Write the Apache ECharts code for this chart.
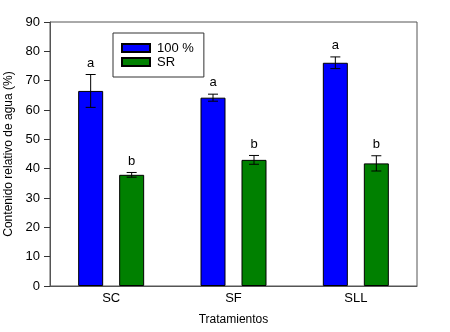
<!DOCTYPE html>
<html>
<head>
<meta charset="utf-8">
<script src="https://cdn.jsdelivr.net/npm/echarts@6/dist/echarts.min.js"></script>
<style>
html, body { margin: 0; padding: 0; background: #fff; }
#chart_1 { width: 450px; height: 332px; }
</style>
</head>
<body>
<div id="chart_1"></div>
<script>
// datos
var categories = ['SC', 'SF', 'SLL'];
var seriesNames = ['100 %', 'SR'];
var val100 = [66.5, 64.2, 76.1];
var err100 = [5.6, 1.2, 2.0];
var valSR = [37.9, 43.0, 41.8];
var errSR = [0.8, 1.5, 2.6];
var letras100 = ['a', 'a', 'a'];
var letrasSR = ['b', 'b', 'b'];

var fuente = 'Liberation Sans';

function errorSeries(vals, errs, letras, offset) {
	var data = [];
	for (var i = 0; i < vals.length; i++) {
		data.push([i, vals[i] - errs[i], vals[i] + errs[i]]);
	}
	return {
		type: 'custom',
		z: 10,
		data: data,
		renderItem: function (params, api) {
			var lo = api.coord([api.value(0), api.value(1)]);
			var hi = api.coord([api.value(0), api.value(2)]);
			var x = lo[0] + offset;
			var w = 5;
			var st = { stroke: '#000', lineWidth: 1 };
			return {
				type: 'group',
				children: [
					{ type: 'line', shape: { x1: x, y1: lo[1], x2: x, y2: hi[1] }, style: st },
					{ type: 'line', shape: { x1: x - w, y1: lo[1], x2: x + w, y2: lo[1] }, style: st },
					{ type: 'line', shape: { x1: x - w, y1: hi[1], x2: x + w, y2: hi[1] }, style: st },
					{
						type: 'text',
						style: {
							x: x, y: hi[1] - 5, text: letras[params.dataIndex],
							fill: '#000', font: '13px "' + fuente + '"',
							align: 'center', verticalAlign: 'bottom'
						}
					}
				]
			};
		}
	};
}

var myChart = echarts.init(document.getElementById('chart_1'));
var option = {
	backgroundColor: '#fff',
	animation: false,
	textStyle: { fontFamily: fuente },
	grid: {
		left: 50, top: 22, right: 33, bottom: 46,
		outerBoundsMode: 'none',
		show: true, borderColor: '#555', borderWidth: 1
	},
	legend: {
		data: seriesNames,
		orient: 'vertical',
		icon: 'rect',
		left: 113, top: 33,
		itemWidth: 28, itemHeight: 8, itemGap: 0,
		padding: [8, 10, 8, 8],
		borderColor: '#333', borderWidth: 1,
		textStyle: { fontSize: 13, color: '#000', fontFamily: fuente, padding: [0, 0, 0, 2], lineHeight: 14 }
	},
	xAxis: {
		type: 'category',
		data: categories,
		name: 'Tratamientos',
		nameLocation: 'middle',
		nameGap: 28,
		nameTextStyle: { fontSize: 12, color: '#000' },
		axisLine: { lineStyle: { color: '#555' } },
		axisTick: { show: false },
		axisLabel: { fontSize: 13, color: '#000', margin: 6 }
	},
	yAxis: {
		type: 'value',
		min: 0, max: 90, interval: 10,
		name: 'Contenido relativo de agua (%)',
		nameLocation: 'middle',
		nameGap: 35,
		nameTextStyle: { fontSize: 12, color: '#000' },
		axisLine: { show: true, lineStyle: { color: '#555' } },
		axisTick: { show: true, length: 6, lineStyle: { color: '#333' } },
		axisLabel: { fontSize: 13, color: '#000', margin: 10 },
		splitLine: { show: false }
	},
	series: [{
		name: seriesNames[0],
		type: 'bar',
		data: val100,
		barWidth: 25,
		barGap: '64%',
		itemStyle: { color: '#0000ff', borderColor: '#000', borderWidth: 1 }
	}, {
		name: seriesNames[1],
		type: 'bar',
		data: valSR,
		barWidth: 25,
		itemStyle: { color: '#008000', borderColor: '#000', borderWidth: 1 }
	},
	errorSeries(val100, err100, letras100, -20.5),
	errorSeries(valSR, errSR, letrasSR, 20.5)
	]
};
myChart.setOption(option);
</script>
</body>
</html>
